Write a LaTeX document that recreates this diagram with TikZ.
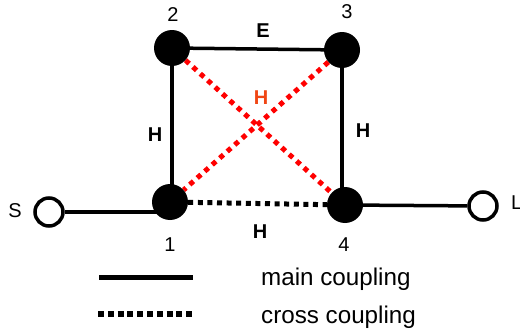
\documentclass[tikz,border=0pt]{standalone}
\usepackage{fontspec}
\setmainfont{Liberation Sans}
\usetikzlibrary{backgrounds}
\definecolor{crossred}{RGB}{255,0,0}
\definecolor{labelred}{RGB}{240,70,20}
\tikzset{
  res/.style={circle,fill=black,minimum size=36pt,inner sep=0pt},
  port/.style={circle,draw=black,fill=white,line width=3.5pt,minimum size=28pt,inner sep=0pt},
  mainc/.style={line width=3.5pt,black},
  crossc/.style={line width=5pt,black,dash pattern=on 5pt off 4.6pt},
  crossr/.style={line width=5pt,crossred,dash pattern=on 5pt off 5pt},
  lbl/.style={inner sep=0pt,font=\fontsize{20}{22}\selectfont},
  blbl/.style={inner sep=0pt,font=\fontsize{20}{22}\selectfont\bfseries},
  leg/.style={inner sep=0pt,font=\fontsize{24.2}{26}\selectfont,anchor=base west}
}
\begin{document}
\begin{tikzpicture}[x=1pt,y=-1pt]
\useasboundingbox (0,0) rectangle (520,332);
\node[res] (n1) at (170,202) {};
\node[res] (n2) at (172,48) {};
\node[res] (n3) at (342,50) {};
\node[res] (n4) at (345,205) {};
\node[port] (S) at (49,212) {};
\node[port] (L) at (483,206) {};
\begin{scope}[on background layer]
  \draw[mainc] (n2.center) -- (n3.center);
  \draw[mainc] (n2.center) -- (n2.center |- n1.center);
  \draw[mainc] (n3.center) -- (n3.center |- n4.center);
  \draw[mainc] (S) -- (S -| n1);
  \draw[mainc] (n4.center) -- (L);
  \draw[crossc] (n1) -- (n4);
  \draw[crossr] (n2) -- (n4);
  \draw[crossr] (n3) -- (n1);
\end{scope}
\node[lbl] (t2) at (173,15) {2};
\node[lbl] (t3) at (347,12) {3};
\node[lbl] (t1) at (170,245) {1};
\node[lbl] (t4) at (344,245) {4};
\node[lbl] (tS) at (15,211) {S};
\node[lbl,anchor=west] (tL) at (511,203) {L};
\node[blbl] (hE) at (263,31) {E};
\node[blbl,text=labelred] (hX) at (261,98) {H};
\node[blbl] (hL) at (155,135) {H};
\node[blbl] (hR) at (363,131) {H};
\node[blbl] (hB) at (260,232) {H};
\coordinate (m1) at (99,277);
\coordinate (m2) at (193,277);
\coordinate (c1) at (98,314);
\coordinate (c2) at (193,314);
\draw[line width=5pt] (m1) -- (m2);
\draw[line width=6pt,dash pattern=on 6pt off 3.8pt] (c1) -- (c2);
\node[leg] (tm) at (261,285) {main coupling};
\node[leg] (tc) at (261,323) {cross coupling};
\end{tikzpicture}
\end{document}
